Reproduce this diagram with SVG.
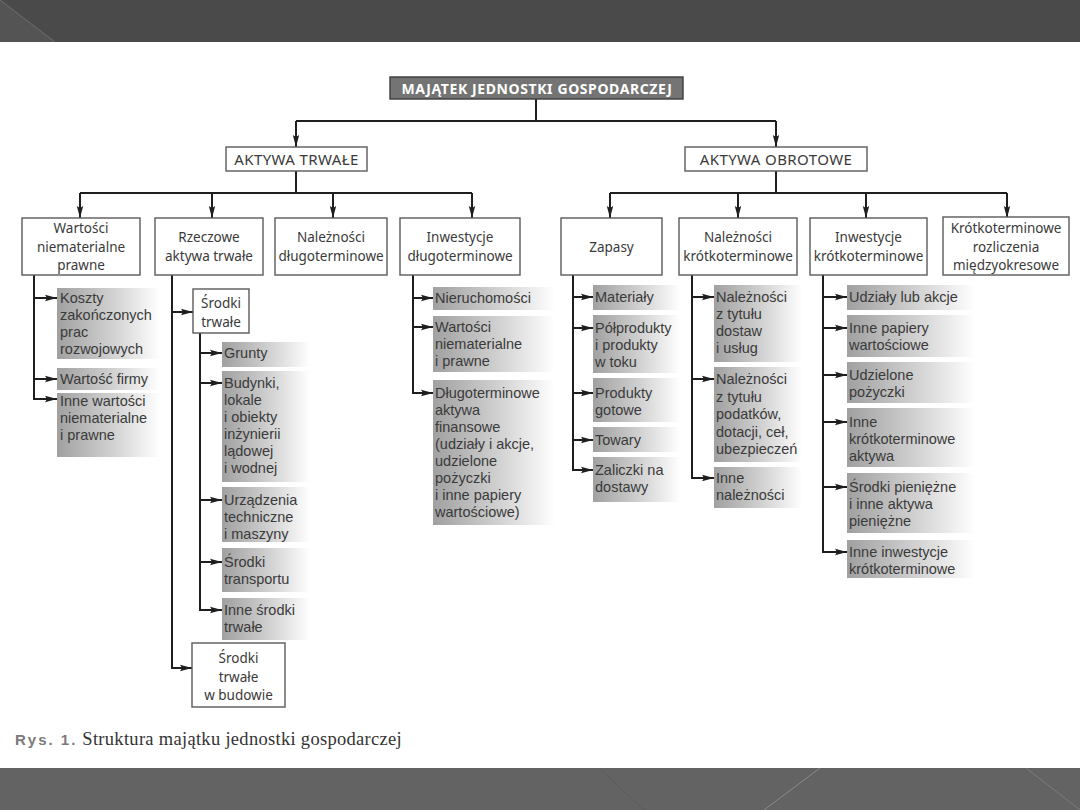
<svg xmlns="http://www.w3.org/2000/svg" width="1080" height="810" viewBox="0 0 1080 810">
<defs>
<linearGradient id="lg" x1="0" y1="0" x2="1" y2="0">
<stop offset="0" stop-color="#a0a0a0"/>
<stop offset="0.55" stop-color="#d2d2d2"/>
<stop offset="1" stop-color="#ffffff"/>
</linearGradient>
<marker id="ah" markerUnits="userSpaceOnUse" markerWidth="12" markerHeight="8" refX="12" refY="4" orient="auto">
<path d="M0,0.8 L12,4 L0,7.2 L2,4 z" fill="#1e1e1e"/>
</marker>
</defs>
<style>
.bx{fill:#fff;stroke:#5a5a5a;stroke-width:1.4}
.leaf{fill:url(#lg)}
.t{font-family:"Noto Sans","Liberation Sans",sans-serif;font-size:13.5px;fill:#3a3a3a;text-anchor:middle}
.lt{font-family:"Liberation Sans","Noto Sans",sans-serif;font-size:14.5px;fill:#3a3a3a}
.up{font-family:"Noto Sans","Liberation Sans",sans-serif;font-size:15px;letter-spacing:0.4px;fill:#3a3a3a;text-anchor:middle}
.ln{stroke:#1e1e1e;stroke-width:2;fill:none}
.ar{stroke:#1e1e1e;stroke-width:2;fill:none;marker-end:url(#ah)}
</style>
<rect x="0" y="0" width="1080" height="810" fill="#fff"/>
<!-- frame bands -->
<rect x="0" y="0" width="1080" height="42" fill="#4a4a4a"/>
<polygon points="0,0 55,42 0,42" fill="#545454"/>
<line x1="0" y1="0" x2="55" y2="42" stroke="#6e6e6e" stroke-width="1"/>
<rect x="0" y="768" width="1080" height="42" fill="#636363"/>
<line x1="599" y1="768" x2="644" y2="810" stroke="#5a5a5a" stroke-width="1"/>
<line x1="820" y1="768" x2="764" y2="810" stroke="#8a8a8a" stroke-width="1"/>
<line x1="1026" y1="768" x2="1080" y2="810" stroke="#7c7c7c" stroke-width="1"/>

<g id="connectors">
<path class="ln" d="M536,99 V121 M296,121 H776"/>
<path class="ar" d="M296,121 V147"/>
<path class="ar" d="M776,121 V147"/>
<path class="ln" d="M296,171 V193 M80,193 H472"/>
<path class="ar" d="M80,193 V218"/>
<path class="ar" d="M212,193 V218"/>
<path class="ar" d="M333,193 V218"/>
<path class="ar" d="M472,193 V218"/>
<path class="ln" d="M776,171 V193 M610,193 H1007"/>
<path class="ar" d="M610,193 V218"/>
<path class="ar" d="M738,193 V218"/>
<path class="ar" d="M866,193 V218"/>
<path class="ar" d="M1007,193 V218"/>
<!-- col1 -->
<path class="ln" d="M34,275 V399"/>
<path class="ar" d="M33,298 H57"/>
<path class="ar" d="M33,379 H57"/>
<path class="ar" d="M33,399 H57"/>
<!-- col2 -->
<path class="ln" d="M172,275 V668"/>
<path class="ar" d="M171,312 H193"/>
<path class="ar" d="M171,668 H192"/>
<path class="ln" d="M200,333 V610"/>
<path class="ar" d="M199,353 H222"/>
<path class="ar" d="M199,383 H222"/>
<path class="ar" d="M199,500 H222"/>
<path class="ar" d="M199,562 H222"/>
<path class="ar" d="M199,610 H222"/>
<!-- col4 -->
<path class="ln" d="M413,275 V393"/>
<path class="ar" d="M412,298 H433"/>
<path class="ar" d="M412,327 H433"/>
<path class="ar" d="M412,393 H433"/>
<!-- col5 -->
<path class="ln" d="M573,275 V470"/>
<path class="ar" d="M572,297 H593"/>
<path class="ar" d="M572,328 H593"/>
<path class="ar" d="M572,393 H593"/>
<path class="ar" d="M572,440 H593"/>
<path class="ar" d="M572,470 H593"/>
<!-- col6 -->
<path class="ln" d="M692,275 V478"/>
<path class="ar" d="M691,297 H714"/>
<path class="ar" d="M691,379 H714"/>
<path class="ar" d="M691,478 H714"/>
<!-- col7 -->
<path class="ln" d="M823,275 V552"/>
<path class="ar" d="M822,297 H847"/>
<path class="ar" d="M822,328 H847"/>
<path class="ar" d="M822,375 H847"/>
<path class="ar" d="M822,422 H847"/>
<path class="ar" d="M822,487 H847"/>
<path class="ar" d="M822,552 H847"/>
</g>

<!-- level 1 -->
<g id="n-majatek">
<rect x="390" y="77" width="293" height="22" fill="#747474" stroke="#3c3c3c" stroke-width="1.4"/>
<text x="537" y="93.5" font-family="Noto Sans, Liberation Sans, sans-serif" font-size="14" font-weight="bold" letter-spacing="0.6" fill="#fff" text-anchor="middle">MAJĄTEK JEDNOSTKI GOSPODARCZEJ</text>
</g>
<!-- level 2 -->
<g id="n-aktywa-trwale">
<rect class="bx" x="226" y="147" width="141" height="24"/>
<text class="up" x="296.5" y="164.5">AKTYWA TRWAŁE</text>
</g>
<g id="n-aktywa-obrotowe">
<rect class="bx" x="685" y="147" width="182" height="24"/>
<text class="up" x="776" y="164.5">AKTYWA OBROTOWE</text>
</g>
<!-- level 3 -->
<g id="n-wartosci">
<rect class="bx" x="22" y="218" width="118" height="57"/>
<text class="t" x="81" y="233">Wartości</text>
<text class="t" x="81" y="252">niematerialne</text>
<text class="t" x="81" y="270">prawne</text>
</g>
<g id="n-rzeczowe">
<rect class="bx" x="155" y="218" width="108" height="57"/>
<text class="t" x="209" y="242">Rzeczowe</text>
<text class="t" x="209" y="261">aktywa trwałe</text>
</g>
<g id="n-naleznosci-dl">
<rect class="bx" x="275" y="218" width="112" height="57"/>
<text class="t" x="331" y="242">Należności</text>
<text class="t" x="331" y="261">długoterminowe</text>
</g>
<g id="n-inwestycje-dl">
<rect class="bx" x="400" y="218" width="120" height="57"/>
<text class="t" x="460" y="242">Inwestycje</text>
<text class="t" x="460" y="261">długoterminowe</text>
</g>
<g id="n-zapasy">
<rect class="bx" x="561" y="218" width="101" height="57"/>
<text class="t" x="611.5" y="252">Zapasy</text>
</g>
<g id="n-naleznosci-kr">
<rect class="bx" x="679" y="218" width="118" height="57"/>
<text class="t" x="738" y="242">Należności</text>
<text class="t" x="738" y="261">krótkoterminowe</text>
</g>
<g id="n-inwestycje-kr">
<rect class="bx" x="810" y="218" width="117" height="57"/>
<text class="t" x="868.5" y="242">Inwestycje</text>
<text class="t" x="868.5" y="261">krótkoterminowe</text>
</g>
<g id="n-rozliczenia">
<rect class="bx" x="943" y="217" width="126" height="58"/>
<text class="t" x="1006" y="233">Krótkoterminowe</text>
<text class="t" x="1006" y="252">rozliczenia</text>
<text class="t" x="1006" y="270">międzyokresowe</text>
</g>

<!-- col 1 leaves -->
<g id="l-koszty">
<rect class="leaf" x="57" y="288" width="103" height="71"/>
<text class="lt" x="60" y="303">Koszty</text>
<text class="lt" x="60" y="320">zakończonych</text>
<text class="lt" x="60" y="337">prac</text>
<text class="lt" x="60" y="354">rozwojowych</text>
</g>
<g id="l-wartosc-firmy">
<rect class="leaf" x="57" y="368" width="103" height="22"/>
<text class="lt" x="60" y="384">Wartość firmy</text>
</g>
<g id="l-inne-wartosci">
<rect class="leaf" x="57" y="393" width="103" height="64"/>
<text class="lt" x="60" y="406">Inne wartości</text>
<text class="lt" x="60" y="423">niematerialne</text>
<text class="lt" x="60" y="440">i prawne</text>
</g>

<!-- col 2 -->
<g id="n-srodki-trwale">
<rect class="bx" x="193" y="289" width="56" height="44"/>
<text class="t" x="221" y="308">Środki</text>
<text class="t" x="221" y="327">trwałe</text>
</g>
<g id="l-grunty">
<rect class="leaf" x="222" y="342" width="88" height="25"/>
<text class="lt" x="224" y="358">Grunty</text>
</g>
<g id="l-budynki">
<rect class="leaf" x="222" y="371" width="88" height="111"/>
<text class="lt" x="224" y="388">Budynki,</text>
<text class="lt" x="224" y="405">lokale</text>
<text class="lt" x="224" y="422">i obiekty</text>
<text class="lt" x="224" y="439">inżynierii</text>
<text class="lt" x="224" y="456">lądowej</text>
<text class="lt" x="224" y="473">i wodnej</text>
</g>
<g id="l-urzadzenia">
<rect class="leaf" x="222" y="487" width="88" height="55"/>
<text class="lt" x="224" y="505">Urządzenia</text>
<text class="lt" x="224" y="522">techniczne</text>
<text class="lt" x="224" y="539">i maszyny</text>
</g>
<g id="l-transport">
<rect class="leaf" x="222" y="548" width="88" height="44"/>
<text class="lt" x="224" y="567">Środki</text>
<text class="lt" x="224" y="584">transportu</text>
</g>
<g id="l-inne-srodki">
<rect class="leaf" x="222" y="598" width="88" height="42"/>
<text class="lt" x="224" y="615">Inne środki</text>
<text class="lt" x="224" y="632">trwałe</text>
</g>
<g id="n-srodki-budowa">
<rect class="bx" x="192" y="643" width="93" height="64"/>
<text class="t" x="238.5" y="663">Środki</text>
<text class="t" x="238.5" y="682">trwałe</text>
<text class="t" x="238.5" y="700">w budowie</text>
</g>

<!-- col 4 -->
<g id="l-nieruchomosci">
<rect class="leaf" x="433" y="287" width="122" height="23"/>
<text class="lt" x="435" y="303">Nieruchomości</text>
</g>
<g id="l-wartosci-np">
<rect class="leaf" x="433" y="316" width="122" height="56"/>
<text class="lt" x="435" y="332">Wartości</text>
<text class="lt" x="435" y="349">niematerialne</text>
<text class="lt" x="435" y="366">i prawne</text>
</g>
<g id="l-dlugoterminowe">
<rect class="leaf" x="433" y="380" width="122" height="145"/>
<text class="lt" x="435" y="398">Długoterminowe</text>
<text class="lt" x="435" y="415">aktywa</text>
<text class="lt" x="435" y="432">finansowe</text>
<text class="lt" x="435" y="449">(udziały i akcje,</text>
<text class="lt" x="435" y="466">udzielone</text>
<text class="lt" x="435" y="483">pożyczki</text>
<text class="lt" x="435" y="500">i inne papiery</text>
<text class="lt" x="435" y="517">wartościowe)</text>
</g>

<!-- col 5 -->
<g id="l-materialy">
<rect class="leaf" x="593" y="285" width="87" height="25"/>
<text class="lt" x="595" y="302">Materiały</text>
</g>
<g id="l-polprodukty">
<rect class="leaf" x="593" y="315" width="87" height="58"/>
<text class="lt" x="595" y="333">Półprodukty</text>
<text class="lt" x="595" y="350">i produkty</text>
<text class="lt" x="595" y="367">w toku</text>
</g>
<g id="l-produkty">
<rect class="leaf" x="593" y="378" width="87" height="44"/>
<text class="lt" x="595" y="398">Produkty</text>
<text class="lt" x="595" y="415">gotowe</text>
</g>
<g id="l-towary">
<rect class="leaf" x="593" y="427" width="87" height="25"/>
<text class="lt" x="595" y="445">Towary</text>
</g>
<g id="l-zaliczki">
<rect class="leaf" x="593" y="457" width="87" height="45"/>
<text class="lt" x="595" y="475">Zaliczki na</text>
<text class="lt" x="595" y="492">dostawy</text>
</g>

<!-- col 6 -->
<g id="l-nal-dostaw">
<rect class="leaf" x="714" y="285" width="88" height="77"/>
<text class="lt" x="716" y="302">Należności</text>
<text class="lt" x="716" y="319">z tytułu</text>
<text class="lt" x="716" y="336">dostaw</text>
<text class="lt" x="716" y="353">i usług</text>
</g>
<g id="l-nal-podatkow">
<rect class="leaf" x="714" y="367" width="88" height="95"/>
<text class="lt" x="716" y="384">Należności</text>
<text class="lt" x="716" y="401.5">z tytułu</text>
<text class="lt" x="716" y="419">podatków,</text>
<text class="lt" x="716" y="436.5">dotacji, ceł,</text>
<text class="lt" x="716" y="454">ubezpieczeń</text>
</g>
<g id="l-inne-nal">
<rect class="leaf" x="714" y="467" width="88" height="41"/>
<text class="lt" x="716" y="483">Inne</text>
<text class="lt" x="716" y="500">należności</text>
</g>

<!-- col 7 -->
<g id="l-udzialy">
<rect class="leaf" x="847" y="285" width="128" height="25"/>
<text class="lt" x="849" y="302">Udziały lub akcje</text>
</g>
<g id="l-inne-papiery">
<rect class="leaf" x="847" y="315" width="128" height="42"/>
<text class="lt" x="849" y="333">Inne papiery</text>
<text class="lt" x="849" y="350">wartościowe</text>
</g>
<g id="l-udzielone">
<rect class="leaf" x="847" y="362" width="128" height="41"/>
<text class="lt" x="849" y="380">Udzielone</text>
<text class="lt" x="849" y="397">pożyczki</text>
</g>
<g id="l-inne-kr-aktywa">
<rect class="leaf" x="847" y="408" width="128" height="59"/>
<text class="lt" x="849" y="427">Inne</text>
<text class="lt" x="849" y="444">krótkoterminowe</text>
<text class="lt" x="849" y="461">aktywa</text>
</g>
<g id="l-srodki-pieniezne">
<rect class="leaf" x="847" y="473" width="128" height="60"/>
<text class="lt" x="849" y="492">Środki pieniężne</text>
<text class="lt" x="849" y="509">i inne aktywa</text>
<text class="lt" x="849" y="526">pieniężne</text>
</g>
<g id="l-inne-inwestycje">
<rect class="leaf" x="847" y="540" width="128" height="38"/>
<text class="lt" x="849" y="557">Inne inwestycje</text>
<text class="lt" x="849" y="574">krótkoterminowe</text>
</g>

<!-- caption -->
<text x="15" y="745"><tspan font-family="Liberation Sans, sans-serif" font-size="15" font-weight="bold" fill="#7a7a7a" letter-spacing="2">Rys. 1.</tspan><tspan font-family="Liberation Serif, serif" font-size="18.5" fill="#333" letter-spacing="0.3"> Struktura majątku jednostki gospodarczej</tspan></text>
</svg>
